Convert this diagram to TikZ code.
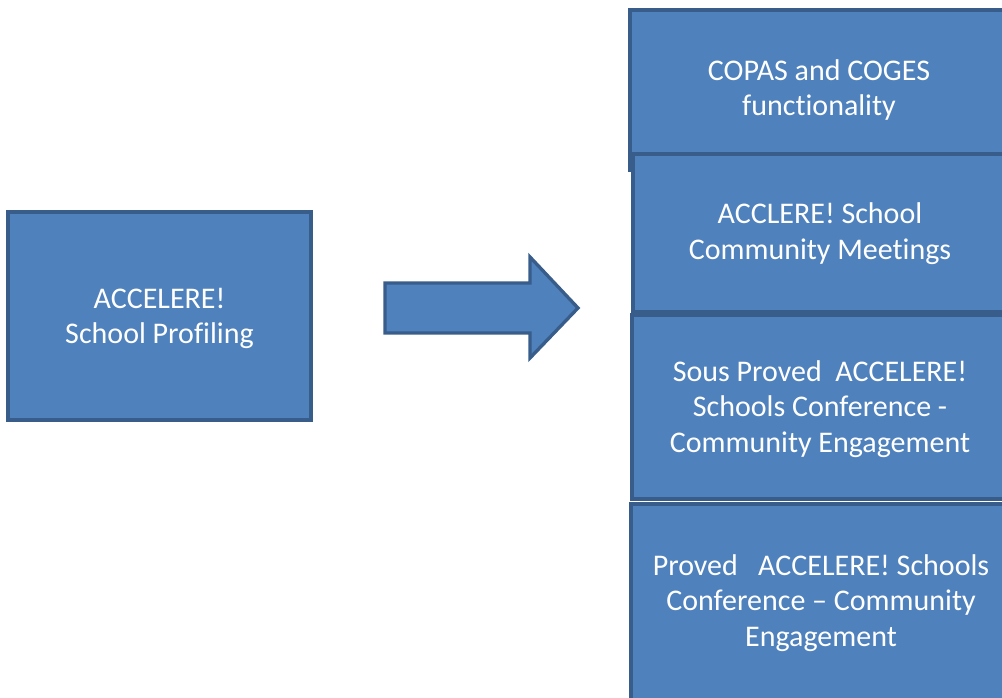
\documentclass[tikz,border=0pt]{standalone}
\usepackage{fontspec}
\setmainfont{Carlito}[Ligatures=NoCommon]
\usetikzlibrary{positioning}

\definecolor{boxfill}{HTML}{4F81BD}
\definecolor{boxline}{HTML}{385D8A}

\tikzset{
  block/.style={fill=boxfill, draw=boxline, line width=2.5pt},
  boxtext/.style={text=white, align=center, font=\fontsize{22.5}{26.8}\selectfont}
}

\begin{document}
\begin{tikzpicture}[x=0.75pt,y=-0.75pt]
\useasboundingbox (0,0) rectangle (1002,698);
\clip (0,0) rectangle (1002,698);

% left box
\filldraw[block] (8,212) rectangle (311,420);
\node (profiling) [boxtext] at (159.5,318.5) {ACCELERE!\\School Profiling};

% block arrow
\filldraw[block] (385,283) -- (530,283) -- (530,257) -- (578,308)
  -- (530,358) -- (530,333) -- (385,333) -- cycle;

% stacked boxes on the right, each one over the one above
\filldraw[block] (630,10) rectangle (1008,170);
\node (copas) [boxtext] at (819,90) {COPAS and COGES\\functionality};

\filldraw[block] (633,154) rectangle (1008,312);
\node (meetings) [boxtext] at (820,234) {ACCLERE! School\\Community Meetings};

\filldraw[block] (632,315) rectangle (1008,499);
\node (souspref) [boxtext] at (820,409) {Sous Proved\ \ ACCELERE!\\Schools Conference -\\Community Engagement};

\filldraw[block] (631,504) rectangle (1008,700);
\node (pref) [boxtext] at (821,603) {Proved\ \ \ ACCELERE! Schools\\Conference – Community\\Engagement};
\end{tikzpicture}
\end{document}
